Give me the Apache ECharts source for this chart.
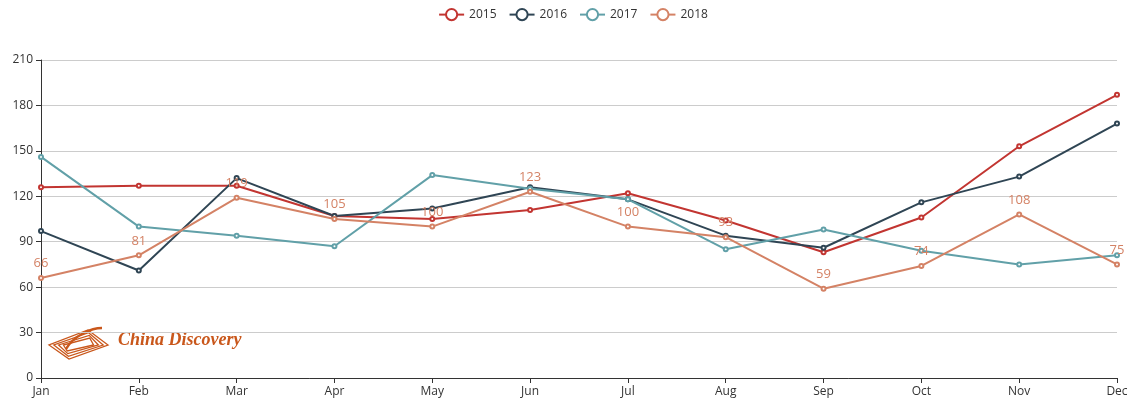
<!DOCTYPE html>
<html>
<head>
<meta charset="utf-8">
<script src="https://cdn.jsdelivr.net/npm/echarts@6/dist/echarts.min.js"></script>
<style>
html, body { margin: 0; padding: 0; background: #fff; }
#main { width: 1146px; height: 410px; }
</style>
</head>
<body>
<div id="main"></div>
<script>
// 月份
var months = ['Jan', 'Feb', 'Mar', 'Apr', 'May', 'Jun', 'Jul', 'Aug', 'Sep', 'Oct', 'Nov', 'Dec'];
// 各年份数据
var data2015 = [126, 127, 127, 107, 105, 111, 122, 104, 83, 106, 153, 187];
var data2016 = [97, 71, 132, 107, 112, 126, 118, 94, 86, 116, 133, 168];
var data2017 = [146, 100, 94, 87, 134, 125, 118, 85, 98, 84, 75, 81];
var data2018 = [66, 81, 119, 105, 100, 123, 100, 93, 59, 74, 108, 75];
var yTicks = [0, 30, 60, 90, 120, 150, 180, 210];

var colors = ['#c23531', '#2f4554', '#61a0a8', '#d48265'];

function makeSeries(name, arr, showLabel) {
	return {
		name: name,
		type: 'line',
		data: arr,
		symbol: 'emptyCircle',
		symbolSize: 4,
		lineStyle: { width: 2 },
		label: {
			show: showLabel,
			position: 'top',
			fontSize: 13,
			color: '#d48265'
		},
		emphasis: { disabled: true }
	};
}

// 水印 logo 的菱形
var logoLines = [];
for (var i = 0; i < 4; i++) {
	var d = i * 3;
	logoLines.push({
		type: 'polygon',
		shape: { points: [[88 + d * 0.2, 330 + d * 0.9], [108 - d * 1.6, 345], [69 - d * 0.2, 359 - d * 0.9], [49 + d * 1.6, 345]] },
		style: { fill: 'none', stroke: '#c9571b', lineWidth: 1.3 },
		silent: true
	});
}
logoLines.push({
	type: 'bezierCurve',
	shape: { x1: 66, y1: 349, x2: 102, y2: 328, cpx1: 74, cpy1: 335, cpx2: 92, cpy2: 328 },
	style: { stroke: '#c9571b', lineWidth: 2.5, fill: 'none' },
	silent: true
});
logoLines.push({
	type: 'text',
	left: 118,
	top: 331,
	style: {
		text: 'China Discovery',
		font: 'italic bold 18px "Liberation Serif", serif',
		fill: '#c9571b'
	},
	silent: true
});

var chart = echarts.init(document.getElementById('main'));
var option = {
	color: colors,
	animation: false,
	textStyle: { fontFamily: '"Open Sans", "Noto Sans", sans-serif' },
	legend: {
		top: 3,
		left: 'center',
		itemWidth: 25,
		itemHeight: 14,
		itemGap: 12,
		textStyle: { fontSize: 12, color: '#333' },
		data: ['2015', '2016', '2017', '2018']
	},
	grid: { left: 41, right: 29, top: 60, bottom: 32, containLabel: false },
	xAxis: {
		type: 'category',
		boundaryGap: false,
		data: months,
		axisLine: { lineStyle: { color: '#333' } },
		axisTick: { show: true, lineStyle: { color: '#333' } },
		axisLabel: { color: '#333', fontSize: 12, margin: 8 },
		splitLine: { show: false }
	},
	yAxis: {
		type: 'value',
		min: yTicks[0],
		max: yTicks[yTicks.length - 1],
		interval: 30,
		axisLine: { show: true, lineStyle: { color: '#333' } },
		axisTick: { show: true, lineStyle: { color: '#333' } },
		axisLabel: { color: '#333', fontSize: 12, margin: 8 },
		splitLine: { show: true, lineStyle: { color: '#ccc' } }
	},
	graphic: logoLines,
	series: [
		makeSeries('2015', data2015, false),
		makeSeries('2016', data2016, false),
		makeSeries('2017', data2017, false),
		makeSeries('2018', data2018, true)
	]
};
chart.setOption(option);
</script>
</body>
</html>
